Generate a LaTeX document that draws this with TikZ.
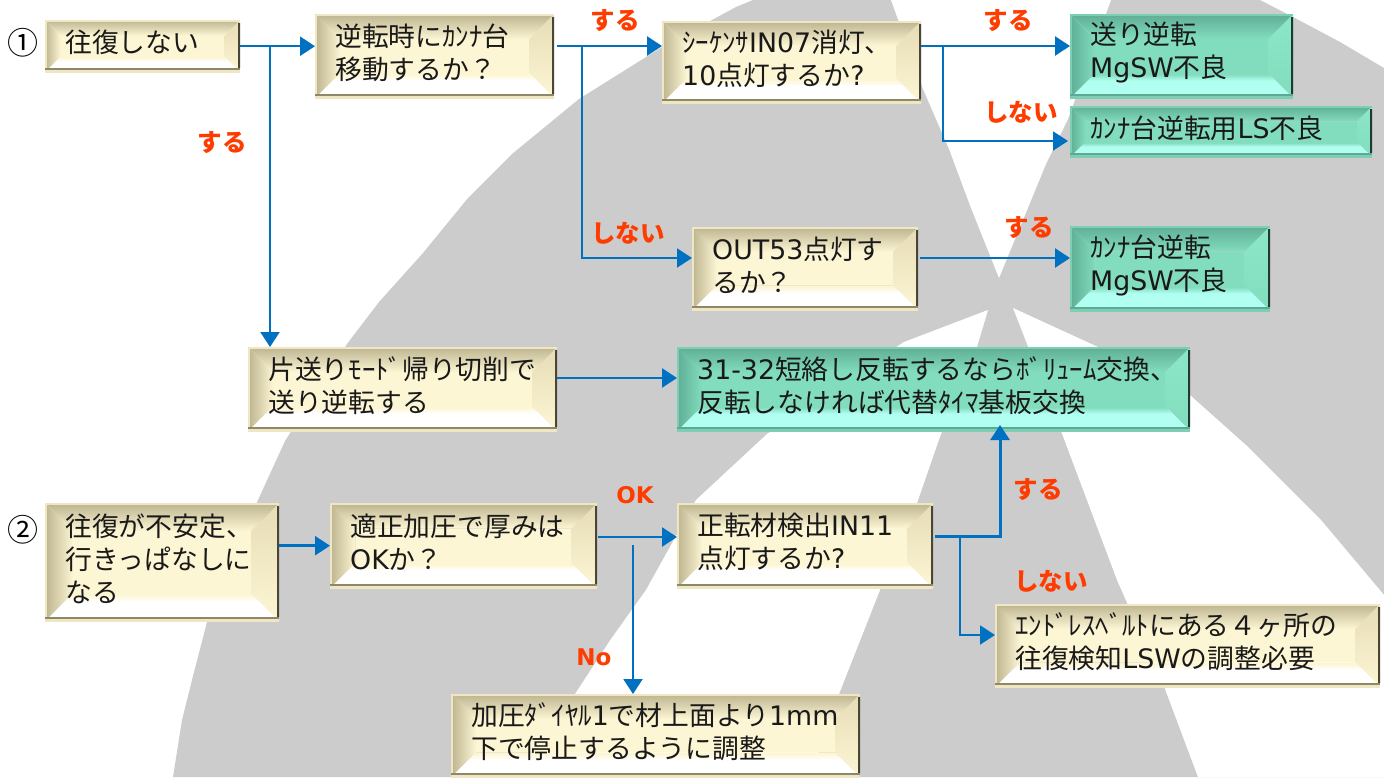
\documentclass[tikz,border=0pt]{standalone}
\usepackage{fontspec}
\usetikzlibrary{arrows.meta,calc}
\setmainfont{DejaVu Sans}
\newfontfamily\jp{Noto Sans CJK JP}
\newfontfamily\lat{DejaVu Sans}
\definecolor{bggray}{HTML}{CCCCCC}
\definecolor{flowblue}{HTML}{0070C0}
\definecolor{labred}{HTML}{FF3C00}
\definecolor{crA}{HTML}{FDF6D4}\definecolor{crB}{HTML}{FFFFFF}\definecolor{crC}{HTML}{BDB48F}
\definecolor{crF}{HTML}{E6DCB6}
\definecolor{crG}{HTML}{EFE6C4}\definecolor{crH}{HTML}{8F8868}\definecolor{crI}{HTML}{4A4636}
\definecolor{teA}{HTML}{82DDBE}\definecolor{teB}{HTML}{B0FFF0}\definecolor{teC}{HTML}{5FAE95}
\definecolor{teF}{HTML}{8CE6C8}
\definecolor{teG}{HTML}{7CCFB4}\definecolor{teH}{HTML}{5FA893}\definecolor{teI}{HTML}{1F3A33}
\pgfdeclareverticalshading{creamfade}{100bp}{color(0bp)=(crB); color(60bp)=(crB); color(72bp)=(crA); color(100bp)=(crA)}
\pgfdeclareverticalshading{tealfade}{100bp}{color(0bp)=(teB); color(60bp)=(teB); color(72bp)=(teA); color(100bp)=(teA)}
\newcommand{\bevel}[8]{%
  \coordinate (pNW) at (path picture bounding box.north west);
  \coordinate (pNE) at (path picture bounding box.north east);
  \coordinate (pSW) at (path picture bounding box.south west);
  \coordinate (pSE) at (path picture bounding box.south east);
  \coordinate (qNW) at ($(pNW)+(\bvl,-\bvl)$);
  \coordinate (qNE) at ($(pNE)+(-\bvl,-\bvl)$);
  \coordinate (qSW) at ($(pSW)+(\bvl,\bvl)$);
  \coordinate (qSE) at ($(pSE)+(-\bvl,\bvl)$);
  \fill[#1] (qNW) rectangle (qSE);
  \shade[top color=#3,bottom color=#1] (pNW) -- (pNE) -- (qNE) -- (qNW) -- cycle;
  \shade[left color=#3,right color=#1] (pNW) -- (qNW) -- (qSW) -- (pSW) -- cycle;
  \shade[top color=#5,bottom color=#1] (pNE) -- (qNE) -- (qSE) -- (pSE) -- cycle;
  \shade[shading=#4] (pSW) -- (qSW) -- (qSE) -- (pSE) -- cycle;
  \draw[#6,line width=4pt] (pNW) -- (pNE);
  \draw[#6,line width=4pt] (pNW) -- (pSW);
  \draw[#6,line width=4pt] (pSW) -- (pSE);
  \draw[#7,line width=2.5pt] ($(pSW)+(0,3)$) -- ($(pSE)+(0,3)$);
  \draw[#8,line width=5pt] ($(pNE)+(0,-3)$) -- ($(pSE)+(0,4)$);
}
\tikzset{
  bx/.code 2 args={\pgfmathsetlengthmacro\boxtw{#1-40}\pgfmathsetmacro\bvl{min(0.3*#2,28)}%
    \tikzset{minimum width=#1pt,minimum height=#2pt,text width=\boxtw}},
  basebox/.style={anchor=north west,inner xsep=20pt,inner ysep=0pt,align=left,
    font=\fontsize{26.8}{33}\selectfont\jp,text=black!90,
    execute at end node={\par\nointerlineskip\hrule height 0pt depth 7pt width 0pt}},
  creambox/.style={basebox,path picture={\bevel{crA}{crB}{crC}{creamfade}{crF}{crG}{crH}{crI}}},
  tealbox/.style={basebox,path picture={\bevel{teA}{teB}{teC}{tealfade}{teF}{teG}{teH}{teI}}},
  flow/.style={draw=flowblue,line width=2.5pt,-{Triangle[length=15pt,width=19pt,fill=flowblue]}},
  branch/.style={flow,line width=2pt},
  lab/.style={text=labred,font=\fontsize{24.5}{24.5}\selectfont\jp\bfseries,inner sep=0pt},
  oklab/.style={text=labred,font=\fontsize{23}{23}\selectfont\lat\bfseries,inner sep=0pt},
  numlab/.style={font=\fontsize{31}{31}\selectfont\jp,text=black,inner sep=0pt},
}
\begin{document}
\begin{tikzpicture}[x=1pt,y=1pt]
\useasboundingbox (0,0) rectangle (1384,-777);
% background logo
\fill[bggray] (753,0) -- (736,-7) -- (662,-47) -- (579,-99) -- (512,-154) -- (468,-198) -- (423,-253) -- (379,-302) -- (347,-344) -- (285,-441) -- (258,-500) -- (207,-622) -- (192,-680) -- (182,-720) -- (173,-777) -- (1384,-777) -- (1384,-68) -- (1340,-42) -- (1293,-17) -- (1260,0) -- cycle;
\fill[white] (891,0) -- (923,-89) -- (949,-149) -- (971,-208) -- (999,-278) -- (1046,-164) -- (1068,-119) -- (1111,0) -- cycle;
\fill[white] (1013,-308) -- (1098,-347) -- (1191,-396) -- (1247,-446) -- (1321,-520) -- (1384,-595) -- (1384,-777) -- (1198,-777) -- (1165,-689) -- (1117,-580) -- (1061,-431) -- cycle;
\fill[white] (988,-310) -- (904,-342) -- (767,-434) -- (696,-500) -- (646,-590) -- (611,-639) -- (575,-694) -- (530,-777) -- (810,-777) -- (839,-694) -- (880,-590) -- (917,-503) -- (941,-434) -- (977,-347) -- cycle;
% boxes
\node[creambox,bx={195}{52}] (a) at (45,-20) {往復しない};
\node[creambox,bx={239}{84}] (b) at (315,-14) {逆転時にｶﾝﾅ台\\移動するか？};
\node[creambox,bx={259}{82}] (c) at (662,-21) {ｼｰｹﾝｻ{\lat IN07}消灯、\\{\lat 10}点灯するか{\lat ?}};
\node[tealbox,bx={223}{84}] (d) at (1070,-14) {送り逆転\\{\lat MgSW}不良};
\node[tealbox,bx={302}{51}] (e) at (1070,-106) {ｶﾝﾅ台逆転用{\lat LS}不良};
\node[creambox,bx={226}{83}] (f) at (692,-227) {{\lat OUT53}点灯す\\るか？};
\node[tealbox,bx={200}{85}] (g) at (1070,-226) {ｶﾝﾅ台逆転\\{\lat MgSW}不良};
\node[creambox,bx={309}{84}] (h) at (248,-347) {片送りﾓｰﾄﾞ帰り切削で\\送り逆転する};
\node[tealbox,bx={513}{84}] (i) at (677,-347) {{\lat 31-32}短絡し反転するならﾎﾞﾘｭｰﾑ交換、\\反転しなければ代替ﾀｲﾏ基板交換};
\node[creambox,bx={234}{118}] (j) at (45,-503) {往復が不安定、\\行きっぱなしに\\なる};
\node[creambox,bx={267}{85}] (k) at (330,-503) {適正加圧で厚みは\\{\lat OK}か？};
\node[creambox,bx={256}{85}] (l) at (677,-503) {正転材検出{\lat IN11}\\点灯するか{\lat ?}};
\node[creambox,bx={385}{83}] (m) at (995,-604) {ｴﾝﾄﾞﾚｽﾍﾞﾙﾄにある４ヶ所の\\往復検知{\lat LSW}の調整必要};
\node[creambox,bx={409}{83}] (n) at (451,-694) {加圧ﾀﾞｲﾔﾙ{\lat 1}で材上面より{\lat 1mm}\\下で停止するように調整};
% free connector points
\coordinate (ja) at (270,-46);
\coordinate (bo) at (557,-46);
\coordinate (jb) at (582,-46);
\coordinate (co) at (921,-46);
\coordinate (jc) at (943,-46);
\coordinate (fo) at (920,-258);
\coordinate (fi) at (692,-258);
\coordinate (ho) at (557,-378);
\coordinate (ko) at (598,-537);
\coordinate (jk) at (633,-545);
\coordinate (lo) at (935,-536);
\coordinate (jl) at (960,-536);
\coordinate (up) at (1000,-425);
\coordinate (et) at (1068,-141);
\coordinate (mi) at (995,-635);
% connectors
\draw[flow] (a.east) -- (a.east -| b.west);
\draw[branch] (ja) -- (ja |- h.north);
\draw[flow] (bo) -- (bo -| c.west);
\draw[branch] (jb) |- (fi);
\draw[flow] (co) -- (co -| d.west);
\draw[branch] (jc) |- (et);
\draw[flow] (fo) -- (fo -| g.west);
\draw[flow] (ho) -- (ho -| i.west);
\draw[flow] (j.east |- k.west) -- (k.west);
\draw[flow] (ko) -- (ko -| l.west);
\draw[branch] (jk) -- (jk |- n.north);
\draw[flow,line width=3pt] (lo) -| (up);
\draw[branch] (jl) |- (mi);
% labels
\node[numlab] (n1) at (23,-43) {①};
\node[numlab] (n2) at (23,-530) {②};
\node[lab] (l1) at (615,-21) {する};
\node[lab] (l2) at (222,-143) {する};
\node[lab] (l3) at (1008,-21) {する};
\node[lab] (l4) at (1021,-112) {しない};
\node[lab] (l5) at (628,-233) {しない};
\node[lab] (l6) at (1029,-228) {する};
\node[lab] (l7) at (1038,-490) {する};
\node[lab] (l8) at (1051,-581) {しない};
\node[oklab] (l9) at (635,-495) {OK};
\node[oklab] (l10) at (594,-657) {No};
\end{tikzpicture}
\end{document}
